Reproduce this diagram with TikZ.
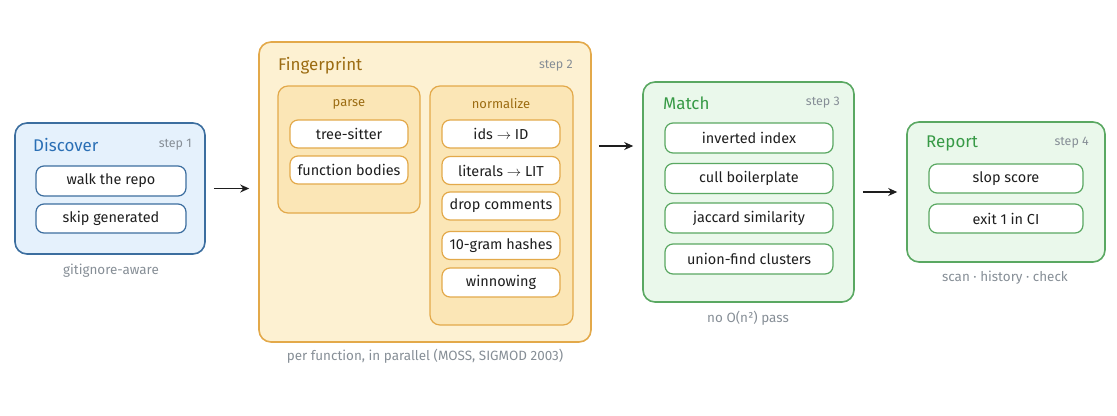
\documentclass[tikz,border=0pt]{standalone}
\usepackage{fontspec}
\setmainfont{Fira Sans}
\usepackage{tikz}
\usetikzlibrary{arrows.meta}
\definecolor{ink}{HTML}{1E1E1E}
\definecolor{muted}{HTML}{868E96}
\definecolor{bluefill}{HTML}{E5F1FC}
\definecolor{blueline}{HTML}{3C6E9F}
\definecolor{bluetext}{HTML}{2A6FB5}
\definecolor{sandfill}{HTML}{FDF1D2}
\definecolor{sanddeep}{HTML}{FBE6B6}
\definecolor{sandline}{HTML}{E3A94A}
\definecolor{sandtext}{HTML}{9C6C12}
\definecolor{greenfill}{HTML}{EAF8EB}
\definecolor{greenline}{HTML}{5AA862}
\definecolor{greentext}{HTML}{379A46}

\begin{document}
\begin{tikzpicture}[x=1bp, y=-1bp,
  group/.style={draw, rounded corners=12bp, line width=1.6bp, inner sep=0pt},
  part/.style={draw, rounded corners=10bp, line width=1.2bp, inner sep=0pt},
  item/.style={draw, fill=white, rounded corners=8bp, line width=1.2bp, minimum width=118bp, minimum height=28bp, inner sep=1bp, text=ink, font=\fontsize{14.5}{16}\selectfont},
  title/.style={anchor=west, inner sep=0pt, font=\fontsize{17}{19}\selectfont},
  stepno/.style={anchor=east, inner sep=0pt, text=muted, font=\fontsize{12.5}{14}\selectfont},
  note/.style={text=muted, font=\fontsize{13.5}{15}\selectfont},
  flow/.style={-{Stealth[length=9bp,width=8bp]}, line width=1.4bp, draw=ink}]
\useasboundingbox (0,0) rectangle (1117,415);

% Discover
\node[group, fill=bluefill, draw=blueline, minimum width=190bp, minimum height=131bp] (discover) at (110,188.5) {};
\node[title, text=bluetext] (discover title) at (33,145) {Discover};
\node[stepno] (discover step) at (192,145) {step 1};
\node[item, draw=blueline, minimum width=150bp, minimum height=30bp] (walk) at (111,181) {walk the repo};
\node[item, draw=blueline, minimum width=150bp, minimum height=29bp] (skip) at (111,218.5) {skip generated};
\node[note] (discover note) at (111,271) {gitignore-aware};

% Fingerprint
\node[group, fill=sandfill, draw=sandline, minimum width=332bp, minimum height=300bp] (fingerprint) at (425,192) {};
\node[title, text=sandtext] (fingerprint title) at (278,66) {Fingerprint};
\node[stepno] (fingerprint step) at (573,66) {step 2};
\node[part, fill=sanddeep, draw=sandline, minimum width=142bp, minimum height=127bp] (parse) at (349,149.5) {};
\node[text=sandtext, font=\fontsize{13}{15}\selectfont] (parse label) at (349,104) {parse};
\node[item, draw=sandline] (treesitter) at (349,134) {tree-sitter};
\node[item, draw=sandline] (bodies) at (349,170) {function bodies};
\node[part, fill=sanddeep, draw=sandline, minimum width=143bp, minimum height=239bp] (normalize) at (501.5,205.5) {};
\node[text=sandtext, font=\fontsize{13}{15}\selectfont] (normalize label) at (501,104) {normalize};
\node[item, draw=sandline] (ids) at (501,134) {ids $\rightarrow$ ID};
\node[item, draw=sandline] (literals) at (501,170.5) {literals $\rightarrow$ LIT};
\node[item, draw=sandline] (comments) at (501,206) {drop comments};
\node[item, draw=sandline] (hashes) at (501,245.5) {10-gram hashes};
\node[item, draw=sandline, minimum height=29bp] (winnow) at (501,282.5) {winnowing};
\node[note] (fingerprint note) at (425,356) {per function, in parallel (MOSS, SIGMOD 2003)};

% Match
\node[group, fill=greenfill, draw=greenline, minimum width=211bp, minimum height=220bp] (match) at (748.5,192) {};
\node[title, text=greentext] (match title) at (663,103) {Match};
\node[stepno] (match step) at (840,103) {step 3};
\node[item, draw=greenline, minimum width=168bp, minimum height=30bp] (inverted) at (749,138) {inverted index};
\node[item, draw=greenline, minimum width=168bp, minimum height=30bp] (cull) at (749,178.5) {cull boilerplate};
\node[item, draw=greenline, minimum width=168bp, minimum height=30bp] (jaccard) at (749,218) {jaccard similarity};
\node[item, draw=greenline, minimum width=168bp, minimum height=30bp] (unionfind) at (749,259) {union-find clusters};
\node[note] (match note) at (748,318) {no O(n²) pass};

% Report
\node[group, fill=greenfill, draw=greenline, minimum width=198bp, minimum height=140bp] (report) at (1006,192) {};
\node[title, text=greentext] (report title) at (926,143) {Report};
\node[stepno] (report step) at (1089,143) {step 4};
\node[item, draw=greenline, minimum width=154bp, minimum height=29bp] (slop) at (1006,178.5) {slop score};
\node[item, draw=greenline, minimum width=154bp, minimum height=29bp] (exitci) at (1006,218.5) {exit 1 in CI};
\node[note] (report note) at (1005,278) {scan · history · check};

% flow between steps
\coordinate (fp out) at ([yshift=46bp]fingerprint.east);
\draw[flow] ([xshift=8bp]discover.east) -- ([xshift=-9bp]discover.east -| fingerprint.west);
\draw[flow] ([xshift=7bp]fp out) -- ([xshift=-9bp]fp out -| match.west);
\draw[flow] ([xshift=8bp]match.east) -- ([xshift=-9bp]report.west);
\end{tikzpicture}
\end{document}
